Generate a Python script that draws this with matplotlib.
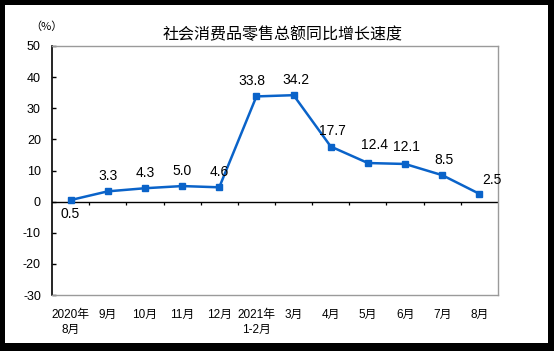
import matplotlib

matplotlib.use("Agg")
import matplotlib.pyplot as plt
from matplotlib.patches import Rectangle

# ── data ──
months = ["2020年\n8月", "9月", "10月", "11月", "12月", "2021年\n1-2月",
          "3月", "4月", "5月", "6月", "7月", "8月"]
growth = [0.5, 3.3, 4.3, 5.0, 4.6, 33.8, 34.2, 17.7, 12.4, 12.1, 8.5, 2.5]
yticks = [-30, -20, -10, 0, 10, 20, 30, 40, 50]

BLUE = "#0A63C9"
GRAY = "#9A9A9A"

plt.rcParams["font.family"] = ["Liberation Sans", "Noto Sans CJK SC", "DejaVu Sans"]

fig = plt.figure(figsize=(5.54, 3.51), dpi=100, facecolor="black")
# white card inside the black frame
fig.patches.append(Rectangle((5 / 554, 8 / 351), 543 / 554, 338 / 351,
                             transform=fig.transFigure, facecolor="white",
                             edgecolor="none", zorder=-10))

ax = fig.add_axes([52 / 554, 1 - 295 / 351, 446 / 554, 249 / 351])
ax.set_facecolor("white")
x = list(range(len(growth)))
ax.plot(x, growth, color=BLUE, linewidth=1.8, marker="s", markersize=5, zorder=3)

# zero line with category-boundary ticks
ax.axhline(0, color="black", linewidth=1.0, zorder=2)
ax.vlines([i + 0.5 for i in x[:-1]], -1.1, 0, color="black", linewidth=0.9)

# data labels
offsets = [(0, -5), (0, 6), (0, 6), (0, 6), (0, 6), (-3, 6),
           (2, 6), (1, 6), (5, 8), (1, 7), (1, 6), (9, 5)]
for xi, v, off in zip(x, growth, offsets):
    ax.annotate(f"{v:.1f}", (xi, v), xytext=off, textcoords="offset points",
                ha="center", va="bottom" if off[1] > 0 else "top",
                fontsize=10, color="black")

ax.set_xlim(-0.5, len(growth) - 0.5)
ax.set_ylim(-30, 50)
ax.set_yticks(yticks)
ax.set_yticklabels([str(t) for t in yticks], fontsize=9)
ax.tick_params(axis="y", direction="in", length=3, width=1, pad=8, color="black")
ax.set_xticks(x)
ax.set_xticklabels(months, fontsize=8.5, linespacing=1.35)
ax.tick_params(axis="x", length=0, pad=10)

ax.spines["left"].set_color("black")
ax.spines["left"].set_linewidth(1.2)
for s in ("top", "right", "bottom"):
    ax.spines[s].set_color(GRAY)
    ax.spines[s].set_linewidth(1.0)

fig.text(283 / 554, 1 - 35 / 351, "社会消费品零售总额同比增长速度",
         ha="center", va="center", fontsize=11.5, family=["Noto Sans CJK SC"])
fig.text(46 / 554, 1 - 27 / 351, "（%）", ha="center", va="center", fontsize=8,
         family=["Noto Sans CJK SC"])

fig.savefig("out.png", dpi=100, facecolor="black")
